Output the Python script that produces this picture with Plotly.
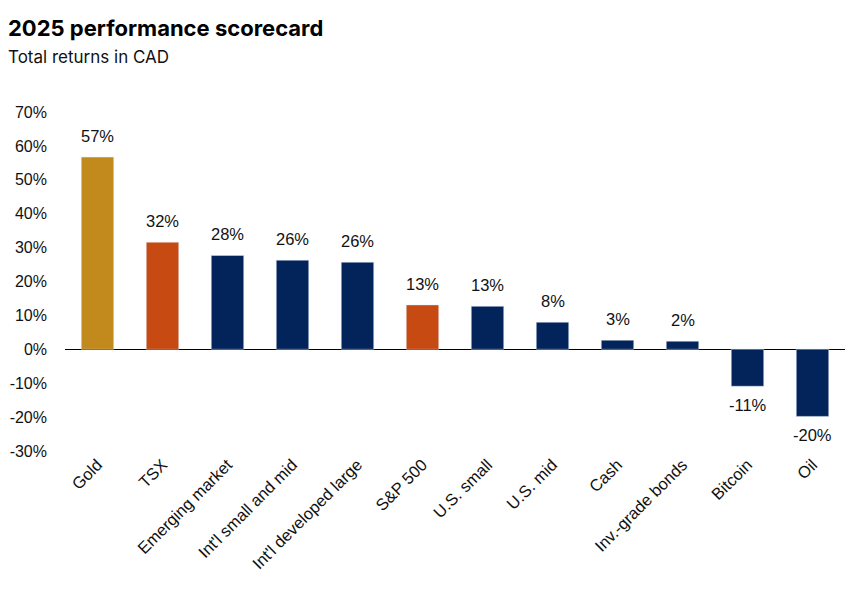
import plotly.graph_objects as go

categories = ["Gold", "TSX", "Emerging market", "Int'l small and mid", "Int'l developed large",
              "S&P 500", "U.S. small", "U.S. mid", "Cash", "Inv.-grade bonds", "Bitcoin", "Oil"]
returns = [56.7, 31.6, 27.7, 26.3, 25.7, 13.1, 12.7, 8.0, 2.7, 2.4, -10.9, -19.8]
labels = ["57%", "32%", "28%", "26%", "26%", "13%", "13%", "8%", "3%", "2%", "-11%", "-20%"]
bar_colors = ["#C28A1C", "#C64A12", "#03245A", "#03245A", "#03245A", "#C64A12",
              "#03245A", "#03245A", "#03245A", "#03245A", "#03245A", "#03245A"]
tick_vals = [-30, -20, -10, 0, 10, 20, 30, 40, 50, 60, 70]
tick_text = ["-30%", "-20%", "-10%", "0%", "10%", "20%", "30%", "40%", "50%", "60%", "70%"]

FONT = "Liberation Sans, Arial"

fig = go.Figure(go.Bar(
    x=categories, y=returns, marker_color=bar_colors, hoverinfo="skip",
))

annots = []
for c, v, t in zip(categories, returns, labels):
    annots.append(dict(x=c, y=v, text=t, showarrow=False, xref="x", yref="y",
                       yanchor="middle", yshift=21 if v >= 0 else -19,
                       font=dict(family=FONT, size=16.5, color="#111111")))

plot_h = 443 - 104
plot_w = 858 - 57 - 21
annots += [
    dict(text="<b>2025 performance scorecard</b>", xref="paper", yref="paper",
         x=-59/plot_w, y=1 + 84/plot_h, xanchor="left", yanchor="middle", showarrow=False,
         font=dict(family="Inter, Roboto", size=22, color="#000000")),
    dict(text="Total returns in CAD", xref="paper", yref="paper",
         x=-59/plot_w, y=1 + 55/plot_h, xanchor="left", yanchor="middle", showarrow=False,
         font=dict(family="Inter, Roboto", size=17, color="#111111")),
]

fig.update_layout(
    width=858, height=593,
    margin=dict(l=57, r=21, t=104, b=150),
    paper_bgcolor="white", plot_bgcolor="white",
    bargap=0.5, showlegend=False,
    font=dict(family=FONT, size=16, color="#111111"),
    annotations=annots,
)
fig.update_xaxes(tickangle=-45, showgrid=False, showline=False, ticks="", automargin=False,
                 tickfont=dict(family=FONT, size=16.5, color="#111111"))
fig.update_yaxes(range=[-30, 70], tickvals=tick_vals, ticktext=tick_text, showgrid=False,
                 zeroline=True, zerolinecolor="#000000", zerolinewidth=1.3, ticks="",
                 ticklabelstandoff=17, automargin=False,
                 tickfont=dict(family=FONT, size=16, color="#111111"))

fig.write_html("out.html")
